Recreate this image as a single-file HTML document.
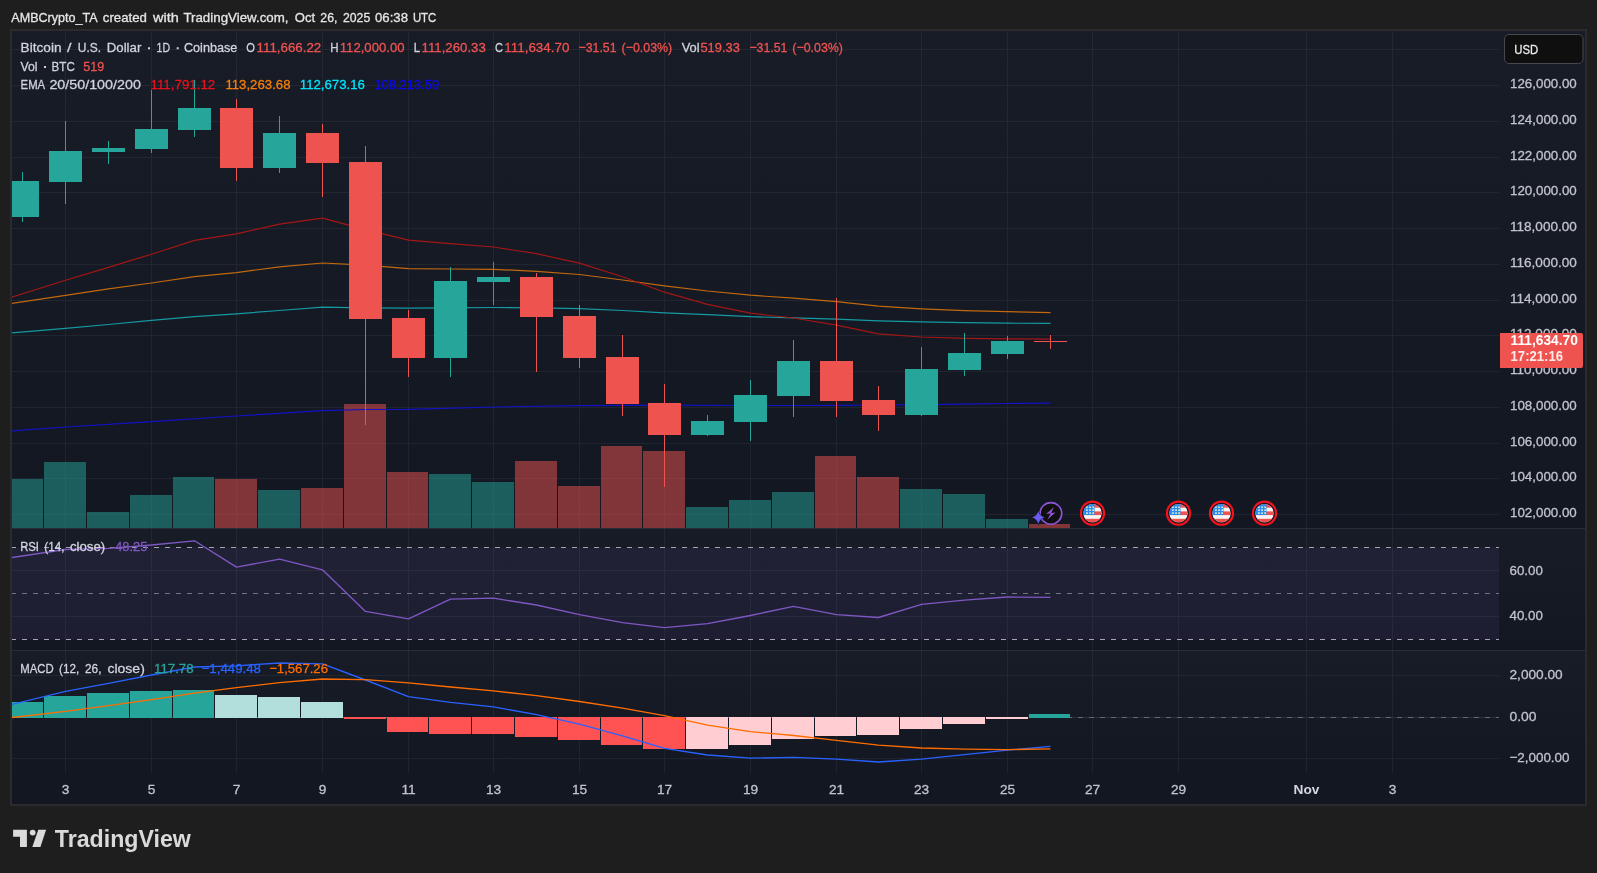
<!DOCTYPE html><html><head><meta charset="utf-8"><title>BTCUSD chart</title>
<style>html,body{margin:0;padding:0;background:#1e1e1e;overflow:hidden}svg{display:block}text{font-family:"Liberation Sans",sans-serif}</style></head><body>
<svg width="1597" height="873" viewBox="0 0 1597 873">
<defs><linearGradient id="bg" x1="0" y1="0" x2="0" y2="1"><stop offset="0" stop-color="#181c27"/><stop offset="1" stop-color="#131722"/></linearGradient><clipPath id="cm"><rect x="12" y="31" width="1487" height="497.5"/></clipPath><clipPath id="cr"><rect x="12" y="529" width="1487" height="121"/></clipPath><clipPath id="cd"><rect x="12" y="651" width="1487" height="121"/></clipPath><clipPath id="fl"><circle cx="0" cy="0" r="9.2"/></clipPath><filter id="idf" x="0" y="0" width="100%" height="100%" filterUnits="userSpaceOnUse" color-interpolation-filters="sRGB"><feOffset dx="0" dy="0"/></filter></defs>
<rect width="1597" height="873" fill="#1e1e1e"/>
<rect x="10" y="29" width="1577" height="777" fill="#2b2b2d"/>
<rect x="12" y="31" width="1573" height="773" fill="#131722"/>
<rect x="12" y="31" width="1573" height="497.5" fill="url(#bg)"/>
<rect x="12" y="529" width="1573" height="121.5" fill="url(#bg)"/>
<rect x="12" y="651" width="1573" height="122" fill="url(#bg)"/>
<path d="M65.5 31V772.5 M151.5 31V772.5 M236.5 31V772.5 M322.5 31V772.5 M408.5 31V772.5 M493.5 31V772.5 M579.5 31V772.5 M664.5 31V772.5 M750.5 31V772.5 M836.5 31V772.5 M921.5 31V772.5 M1007.5 31V772.5 M1092.5 31V772.5 M1178.5 31V772.5 M1306.5 31V772.5 M1392.5 31V772.5 M12 49.5H1499 M12 85.5H1499 M12 121.5H1499 M12 157.5H1499 M12 192.5H1499 M12 228.5H1499 M12 264.5H1499 M12 300.5H1499 M12 335.5H1499 M12 371.5H1499 M12 407.5H1499 M12 443.5H1499 M12 478.5H1499 M12 514.5H1499 M12 570.5H1499 M12 616.5H1499 M12 675.5H1499 M12 758.5H1499" stroke="rgba(240,243,250,0.06)" stroke-width="1" fill="none" shape-rendering="crispEdges"/>
<path d="M12 528.5H1585M12 650.5H1585" stroke="#2a2e39" stroke-width="1" shape-rendering="crispEdges"/>
<g clip-path="url(#cm)" shape-rendering="crispEdges">
<rect x="1" y="478.8" width="42" height="49.2" fill="rgba(38,166,154,0.5)"/>
<rect x="44" y="462.0" width="42" height="66.0" fill="rgba(38,166,154,0.5)"/>
<rect x="87" y="511.9" width="42" height="16.1" fill="rgba(38,166,154,0.5)"/>
<rect x="130" y="494.9" width="42" height="33.1" fill="rgba(38,166,154,0.5)"/>
<rect x="173" y="477.1" width="41" height="50.9" fill="rgba(38,166,154,0.5)"/>
<rect x="215" y="478.8" width="42" height="49.2" fill="rgba(239,83,80,0.5)"/>
<rect x="258" y="489.8" width="42" height="38.2" fill="rgba(38,166,154,0.5)"/>
<rect x="301" y="487.8" width="42" height="40.2" fill="rgba(239,83,80,0.5)"/>
<rect x="344" y="404.0" width="42" height="124.0" fill="rgba(239,83,80,0.5)"/>
<rect x="387" y="471.8" width="41" height="56.2" fill="rgba(239,83,80,0.5)"/>
<rect x="429" y="473.6" width="42" height="54.4" fill="rgba(38,166,154,0.5)"/>
<rect x="472" y="481.9" width="42" height="46.1" fill="rgba(38,166,154,0.5)"/>
<rect x="515" y="460.8" width="42" height="67.2" fill="rgba(239,83,80,0.5)"/>
<rect x="558" y="486.0" width="42" height="42.0" fill="rgba(239,83,80,0.5)"/>
<rect x="601" y="445.7" width="41" height="82.3" fill="rgba(239,83,80,0.5)"/>
<rect x="643" y="450.7" width="42" height="77.3" fill="rgba(239,83,80,0.5)"/>
<rect x="686" y="506.8" width="42" height="21.2" fill="rgba(38,166,154,0.5)"/>
<rect x="729" y="499.7" width="42" height="28.3" fill="rgba(38,166,154,0.5)"/>
<rect x="772" y="492.0" width="42" height="36.0" fill="rgba(38,166,154,0.5)"/>
<rect x="815" y="455.8" width="41" height="72.2" fill="rgba(239,83,80,0.5)"/>
<rect x="857" y="476.8" width="42" height="51.2" fill="rgba(239,83,80,0.5)"/>
<rect x="900" y="488.9" width="42" height="39.1" fill="rgba(38,166,154,0.5)"/>
<rect x="943" y="493.8" width="42" height="34.2" fill="rgba(38,166,154,0.5)"/>
<rect x="986" y="518.9" width="42" height="9.1" fill="rgba(38,166,154,0.5)"/>
<rect x="1029" y="523.8" width="41" height="4.2" fill="rgba(239,83,80,0.5)"/>
</g>
<polyline points="11.3,430.9 65.5,427.0 151.5,421.6 236.5,416.0 322.5,410.6 365.5,409.5 408.5,409.3 493.5,407.0 579.5,405.6 664.5,405.2 750.5,405.5 793.5,405.5 836.5,405.3 878.5,405.0 921.5,404.6 964.5,404.1 1007.5,403.5 1050.5,403.1" fill="none" stroke="#1212c8" stroke-width="1.2" stroke-linejoin="round" clip-path="url(#cm)"/>
<polyline points="11.3,333.0 65.5,328.4 108.5,324.5 151.5,320.4 194.5,316.6 236.5,313.8 279.5,310.5 322.5,307.2 365.5,307.8 408.5,308.2 450.5,307.8 493.5,307.5 536.5,307.8 579.5,308.7 622.5,310.5 664.5,312.8 707.5,314.6 750.5,316.7 793.5,317.8 836.5,319.1 878.5,320.9 921.5,321.8 964.5,322.7 1007.5,323.2 1050.5,323.4" fill="none" stroke="#159aa2" stroke-width="1.2" stroke-linejoin="round" clip-path="url(#cm)"/>
<polyline points="11.3,303.4 65.5,295.4 108.5,288.8 151.5,283.0 194.5,276.7 236.5,272.6 279.5,266.8 322.5,263.0 365.5,265.2 408.5,268.6 450.5,269.0 493.5,269.3 536.5,271.3 579.5,274.5 622.5,280.0 664.5,285.8 707.5,291.0 750.5,295.2 793.5,298.2 836.5,301.6 878.5,306.1 921.5,308.8 964.5,310.6 1007.5,311.7 1050.5,312.6" fill="none" stroke="#c2680f" stroke-width="1.2" stroke-linejoin="round" clip-path="url(#cm)"/>
<polyline points="11.3,297.3 65.5,280.3 108.5,267.4 151.5,254.2 194.5,240.4 236.5,233.8 279.5,224.2 322.5,218.1 365.5,229.7 408.5,240.2 450.5,243.6 493.5,247.0 536.5,253.7 579.5,263.1 622.5,276.8 664.5,292.2 707.5,304.3 750.5,313.2 793.5,318.0 836.5,325.2 878.5,333.8 921.5,337.0 964.5,338.3 1007.5,338.8 1050.5,339.1" fill="none" stroke="#a31616" stroke-width="1.2" stroke-linejoin="round" clip-path="url(#cm)"/>
<g clip-path="url(#cm)" shape-rendering="crispEdges">
<rect x="22" y="172.0" width="1" height="49.6" fill="#26a69a"/>
<rect x="6" y="181.0" width="33" height="35.7" fill="#26a69a"/>
<rect x="65" y="121.0" width="1" height="82.8" fill="#26a69a"/>
<rect x="49" y="151.0" width="33" height="30.5" fill="#26a69a"/>
<rect x="108" y="141.0" width="1" height="23.0" fill="#26a69a"/>
<rect x="92" y="148.0" width="33" height="3.8" fill="#26a69a"/>
<rect x="151" y="89.7" width="1" height="63.3" fill="#26a69a"/>
<rect x="135" y="129.0" width="33" height="19.8" fill="#26a69a"/>
<rect x="194" y="80.0" width="1" height="57.0" fill="#26a69a"/>
<rect x="178" y="108.0" width="33" height="21.8" fill="#26a69a"/>
<rect x="236" y="99.3" width="1" height="81.7" fill="#ef5350"/>
<rect x="220" y="108.0" width="33" height="59.8" fill="#ef5350"/>
<rect x="279" y="116.0" width="1" height="56.7" fill="#26a69a"/>
<rect x="263" y="133.0" width="33" height="34.8" fill="#26a69a"/>
<rect x="322" y="124.0" width="1" height="73.0" fill="#ef5350"/>
<rect x="306" y="133.0" width="33" height="29.8" fill="#ef5350"/>
<rect x="365" y="146.0" width="1" height="279.0" fill="#ef5350"/>
<rect x="349" y="162.0" width="33" height="157.0" fill="#ef5350"/>
<rect x="408" y="310.0" width="1" height="66.5" fill="#ef5350"/>
<rect x="392" y="318.0" width="33" height="39.7" fill="#ef5350"/>
<rect x="450" y="266.5" width="1" height="110.0" fill="#26a69a"/>
<rect x="434" y="280.7" width="33" height="77.0" fill="#26a69a"/>
<rect x="493" y="262.0" width="1" height="43.0" fill="#26a69a"/>
<rect x="477" y="277.0" width="33" height="4.7" fill="#26a69a"/>
<rect x="536" y="273.0" width="1" height="98.5" fill="#ef5350"/>
<rect x="520" y="277.0" width="33" height="40.0" fill="#ef5350"/>
<rect x="579" y="304.6" width="1" height="63.4" fill="#ef5350"/>
<rect x="563" y="316.0" width="33" height="41.7" fill="#ef5350"/>
<rect x="622" y="334.8" width="1" height="81.2" fill="#ef5350"/>
<rect x="606" y="356.8" width="33" height="47.2" fill="#ef5350"/>
<rect x="664" y="383.8" width="1" height="102.7" fill="#ef5350"/>
<rect x="648" y="403.0" width="33" height="31.7" fill="#ef5350"/>
<rect x="707" y="415.0" width="1" height="21.0" fill="#26a69a"/>
<rect x="691" y="420.8" width="33" height="14.2" fill="#26a69a"/>
<rect x="750" y="380.0" width="1" height="61.0" fill="#26a69a"/>
<rect x="734" y="394.9" width="33" height="26.9" fill="#26a69a"/>
<rect x="793" y="339.8" width="1" height="77.0" fill="#26a69a"/>
<rect x="777" y="360.8" width="33" height="35.0" fill="#26a69a"/>
<rect x="836" y="297.7" width="1" height="119.1" fill="#ef5350"/>
<rect x="820" y="360.8" width="33" height="40.2" fill="#ef5350"/>
<rect x="878" y="385.9" width="1" height="44.8" fill="#ef5350"/>
<rect x="862" y="399.8" width="33" height="15.2" fill="#ef5350"/>
<rect x="921" y="347.2" width="1" height="69.0" fill="#26a69a"/>
<rect x="905" y="368.9" width="33" height="46.1" fill="#26a69a"/>
<rect x="964" y="333.0" width="1" height="43.0" fill="#26a69a"/>
<rect x="948" y="352.8" width="33" height="17.0" fill="#26a69a"/>
<rect x="1007" y="335.8" width="1" height="23.2" fill="#26a69a"/>
<rect x="991" y="341.0" width="33" height="13.0" fill="#26a69a"/>
<rect x="1050" y="334.5" width="1" height="14.5" fill="#ef5350"/>
<rect x="1034" y="341.0" width="33" height="1.0" fill="#ef5350"/>
</g>
<rect x="12" y="547.5" width="1487" height="92" fill="rgba(126,87,194,0.1)"/>
<path d="M12 547.5H1499M12 639.5H1499" stroke="#a3a5af" stroke-width="1" stroke-dasharray="5.4 5.6" stroke-dashoffset="1" fill="none" shape-rendering="crispEdges"/>
<path d="M12 593.5H1499" stroke="#71747f" stroke-width="1" stroke-dasharray="5.4 5.6" stroke-dashoffset="1" fill="none" shape-rendering="crispEdges"/>
<polyline points="11.3,557.6 65.5,549.5 108.5,548.3 151.5,545.0 194.5,540.8 236.5,567.1 279.5,559.1 322.5,569.8 365.5,611.4 408.5,618.8 450.5,599.2 493.5,598.2 536.5,605.0 579.5,614.6 622.5,622.6 664.5,627.7 707.5,623.6 750.5,615.5 793.5,606.3 836.5,614.6 878.5,617.5 921.5,604.3 964.5,600.2 1007.5,597.0 1050.5,597.3" fill="none" stroke="#7e57c2" stroke-width="1.35" stroke-linejoin="round" clip-path="url(#cr)"/>
<path d="M12 717.5H1499" stroke="#2c2f3a" stroke-width="1" fill="none" shape-rendering="crispEdges"/>
<path d="M12 717.5H1499" stroke="#666975" stroke-width="1" stroke-dasharray="5.4 5.6" stroke-dashoffset="1" fill="none" shape-rendering="crispEdges"/>
<g clip-path="url(#cd)" shape-rendering="crispEdges">
<rect x="1" y="701.8" width="42" height="16.2" fill="#26a69a"/>
<rect x="44" y="696.1" width="42" height="21.9" fill="#26a69a"/>
<rect x="87" y="693.1" width="42" height="24.9" fill="#26a69a"/>
<rect x="130" y="691.1" width="42" height="26.9" fill="#26a69a"/>
<rect x="173" y="690.1" width="41" height="27.9" fill="#26a69a"/>
<rect x="215" y="695.1" width="42" height="22.9" fill="#b2dfdb"/>
<rect x="258" y="696.8" width="42" height="21.2" fill="#b2dfdb"/>
<rect x="301" y="701.8" width="42" height="16.2" fill="#b2dfdb"/>
<rect x="344" y="717.0" width="42" height="1.9" fill="#ff5252"/>
<rect x="387" y="717.0" width="41" height="14.6" fill="#ff5252"/>
<rect x="429" y="717.0" width="42" height="16.9" fill="#ff5252"/>
<rect x="472" y="717.0" width="42" height="16.9" fill="#ff5252"/>
<rect x="515" y="717.0" width="42" height="20.0" fill="#ff5252"/>
<rect x="558" y="717.0" width="42" height="23.0" fill="#ff5252"/>
<rect x="601" y="717.0" width="41" height="28.0" fill="#ff5252"/>
<rect x="643" y="717.0" width="42" height="31.9" fill="#ff5252"/>
<rect x="686" y="717.0" width="42" height="31.9" fill="#ffcdd2"/>
<rect x="729" y="717.0" width="42" height="28.0" fill="#ffcdd2"/>
<rect x="772" y="717.0" width="42" height="21.9" fill="#ffcdd2"/>
<rect x="815" y="717.0" width="41" height="18.8" fill="#ffcdd2"/>
<rect x="857" y="717.0" width="42" height="17.8" fill="#ffcdd2"/>
<rect x="900" y="717.0" width="42" height="12.0" fill="#ffcdd2"/>
<rect x="943" y="717.0" width="42" height="6.9" fill="#ffcdd2"/>
<rect x="986" y="717.0" width="42" height="1.8" fill="#ffcdd2"/>
<rect x="1029" y="713.7" width="41" height="4.3" fill="#26a69a"/>
</g>
<polyline points="11.3,704.6 65.5,691.3 108.5,683.3 151.5,675.0 194.5,667.0 236.5,665.8 279.5,663.0 322.5,663.8 365.5,680.0 408.5,696.7 450.5,702.4 493.5,706.9 536.5,714.6 579.5,724.2 622.5,735.8 664.5,748.3 707.5,755.0 750.5,758.2 793.5,757.3 836.5,759.2 878.5,762.0 921.5,759.2 964.5,754.7 1007.5,750.2 1050.5,746.4" fill="none" stroke="#2962ff" stroke-width="1.35" stroke-linejoin="round" clip-path="url(#cd)"/>
<polyline points="11.3,717.6 65.5,711.4 108.5,705.6 151.5,699.6 194.5,693.1 236.5,687.6 279.5,682.6 322.5,679.0 365.5,679.6 408.5,682.9 450.5,687.0 493.5,690.9 536.5,695.7 579.5,701.5 622.5,708.2 664.5,715.6 707.5,725.2 750.5,731.6 793.5,735.5 836.5,740.3 878.5,745.1 921.5,748.0 964.5,749.2 1007.5,749.6 1050.5,748.9" fill="none" stroke="#ff6d00" stroke-width="1.35" stroke-linejoin="round" clip-path="url(#cd)"/>
<g filter="url(#idf)">
<text x="11.3" y="21.6" font-size="13.4" fill="#e6e6e6" stroke="#e6e6e6" stroke-width="0.3" textLength="86.3" lengthAdjust="spacingAndGlyphs">AMBCrypto_TA</text>
<text x="102.8" y="21.6" font-size="13.4" fill="#e6e6e6" stroke="#e6e6e6" stroke-width="0.3" textLength="44.1" lengthAdjust="spacingAndGlyphs">created</text>
<text x="153.1" y="21.6" font-size="13.4" fill="#e6e6e6" stroke="#e6e6e6" stroke-width="0.3" textLength="25.8" lengthAdjust="spacingAndGlyphs">with</text>
<text x="183.4" y="21.6" font-size="13.4" fill="#e6e6e6" stroke="#e6e6e6" stroke-width="0.3" textLength="105.1" lengthAdjust="spacingAndGlyphs">TradingView.com,</text>
<text x="294.8" y="21.6" font-size="13.4" fill="#e6e6e6" stroke="#e6e6e6" stroke-width="0.3" textLength="20.3" lengthAdjust="spacingAndGlyphs">Oct</text>
<text x="320.3" y="21.6" font-size="13.4" fill="#e6e6e6" stroke="#e6e6e6" stroke-width="0.3" textLength="17.1" lengthAdjust="spacingAndGlyphs">26,</text>
<text x="343.0" y="21.6" font-size="13.4" fill="#e6e6e6" stroke="#e6e6e6" stroke-width="0.3" textLength="27.2" lengthAdjust="spacingAndGlyphs">2025</text>
<text x="375.0" y="21.6" font-size="13.4" fill="#e6e6e6" stroke="#e6e6e6" stroke-width="0.3" textLength="33.0" lengthAdjust="spacingAndGlyphs">06:38</text>
<text x="412.9" y="21.6" font-size="13.4" fill="#e6e6e6" stroke="#e6e6e6" stroke-width="0.3" textLength="23.4" lengthAdjust="spacingAndGlyphs">UTC</text>
<text x="20.6" y="51.9" font-size="13.7" fill="#d1d4dc" stroke="#d1d4dc" stroke-width="0.3" textLength="41.0" lengthAdjust="spacingAndGlyphs">Bitcoin</text>
<text x="66.9" y="51.9" font-size="13.7" fill="#d1d4dc" stroke="#d1d4dc" stroke-width="0.3" textLength="4.5" lengthAdjust="spacingAndGlyphs">/</text>
<text x="77.8" y="51.9" font-size="13.7" fill="#d1d4dc" stroke="#d1d4dc" stroke-width="0.3" textLength="23.3" lengthAdjust="spacingAndGlyphs">U.S.</text>
<text x="106.8" y="51.9" font-size="13.7" fill="#d1d4dc" stroke="#d1d4dc" stroke-width="0.3" textLength="34.5" lengthAdjust="spacingAndGlyphs">Dollar</text>
<text x="156.6" y="51.9" font-size="13.7" fill="#d1d4dc" stroke="#d1d4dc" stroke-width="0.3" textLength="13.5" lengthAdjust="spacingAndGlyphs">1D</text>
<text x="184.0" y="51.9" font-size="13.7" fill="#d1d4dc" stroke="#d1d4dc" stroke-width="0.3" textLength="53.3" lengthAdjust="spacingAndGlyphs">Coinbase</text>
<text x="246.3" y="51.9" font-size="13.7" fill="#d1d4dc" stroke="#d1d4dc" stroke-width="0.3" textLength="8.7" lengthAdjust="spacingAndGlyphs">O</text>
<text x="330.3" y="51.9" font-size="13.7" fill="#d1d4dc" stroke="#d1d4dc" stroke-width="0.3" textLength="8.3" lengthAdjust="spacingAndGlyphs">H</text>
<text x="413.8" y="51.9" font-size="13.7" fill="#d1d4dc" stroke="#d1d4dc" stroke-width="0.3" textLength="6.4" lengthAdjust="spacingAndGlyphs">L</text>
<text x="495.0" y="51.9" font-size="13.7" fill="#d1d4dc" stroke="#d1d4dc" stroke-width="0.3" textLength="8.0" lengthAdjust="spacingAndGlyphs">C</text>
<text x="681.7" y="51.9" font-size="13.7" fill="#d1d4dc" stroke="#d1d4dc" stroke-width="0.3" textLength="17.9" lengthAdjust="spacingAndGlyphs">Vol</text>
<path d="M148 47.2h2v2h-2zM176.7 47.2h2v2h-2zM44 66h2v2h-2z" fill="#d1d4dc"/>
<text x="256.6" y="51.9" font-size="13.7" fill="#ef5350" stroke="#ef5350" stroke-width="0.3" textLength="64.7" lengthAdjust="spacingAndGlyphs">111,666.22</text>
<text x="339.8" y="51.9" font-size="13.7" fill="#ef5350" stroke="#ef5350" stroke-width="0.3" textLength="64.7" lengthAdjust="spacingAndGlyphs">112,000.00</text>
<text x="421.6" y="51.9" font-size="13.7" fill="#ef5350" stroke="#ef5350" stroke-width="0.3" textLength="64.2" lengthAdjust="spacingAndGlyphs">111,260.33</text>
<text x="504.3" y="51.9" font-size="13.7" fill="#ef5350" stroke="#ef5350" stroke-width="0.3" textLength="65.1" lengthAdjust="spacingAndGlyphs">111,634.70</text>
<text x="578.6" y="51.9" font-size="13.7" fill="#ef5350" stroke="#ef5350" stroke-width="0.3" textLength="37.9" lengthAdjust="spacingAndGlyphs">−31.51</text>
<text x="621.5" y="51.9" font-size="13.7" fill="#ef5350" stroke="#ef5350" stroke-width="0.3" textLength="50.7" lengthAdjust="spacingAndGlyphs">(−0.03%)</text>
<text x="700.4" y="51.9" font-size="13.7" fill="#ef5350" stroke="#ef5350" stroke-width="0.3" textLength="39.5" lengthAdjust="spacingAndGlyphs">519.33</text>
<text x="749.4" y="51.9" font-size="13.7" fill="#ef5350" stroke="#ef5350" stroke-width="0.3" textLength="37.9" lengthAdjust="spacingAndGlyphs">−31.51</text>
<text x="792.3" y="51.9" font-size="13.7" fill="#ef5350" stroke="#ef5350" stroke-width="0.3" textLength="50.7" lengthAdjust="spacingAndGlyphs">(−0.03%)</text>
<text x="20.6" y="70.7" font-size="13.7" fill="#d1d4dc" stroke="#d1d4dc" stroke-width="0.3" textLength="17.0" lengthAdjust="spacingAndGlyphs">Vol</text>
<text x="51.6" y="70.7" font-size="13.7" fill="#d1d4dc" stroke="#d1d4dc" stroke-width="0.3" textLength="23.2" lengthAdjust="spacingAndGlyphs">BTC</text>
<text x="83.3" y="70.7" font-size="13.7" fill="#ef5350" stroke="#ef5350" stroke-width="0.3" textLength="20.9" lengthAdjust="spacingAndGlyphs">519</text>
<text x="20.6" y="89.4" font-size="13.7" fill="#d1d4dc" stroke="#d1d4dc" stroke-width="0.3" textLength="24.5" lengthAdjust="spacingAndGlyphs">EMA</text>
<text x="49.4" y="89.4" font-size="13.7" fill="#d1d4dc" stroke="#d1d4dc" stroke-width="0.3" textLength="91.5" lengthAdjust="spacingAndGlyphs">20/50/100/200</text>
<text x="150.5" y="89.4" font-size="13.7" fill="#e5131d" stroke="#e5131d" stroke-width="0.3" textLength="64.8" lengthAdjust="spacingAndGlyphs">111,791.12</text>
<text x="225.4" y="89.4" font-size="13.7" fill="#f77f0a" stroke="#f77f0a" stroke-width="0.3" textLength="65.1" lengthAdjust="spacingAndGlyphs">113,263.68</text>
<text x="299.8" y="89.4" font-size="13.7" fill="#00e5ff" stroke="#00e5ff" stroke-width="0.3" textLength="65.1" lengthAdjust="spacingAndGlyphs">112,673.16</text>
<text x="374.2" y="89.4" font-size="13.7" fill="#0a0af0" stroke="#0a0af0" stroke-width="0.3" textLength="65.0" lengthAdjust="spacingAndGlyphs">108,213.59</text>
<text x="20.2" y="551.0" font-size="13.7" fill="#d1d4dc" stroke="#d1d4dc" stroke-width="0.3" textLength="18.8" lengthAdjust="spacingAndGlyphs">RSI</text>
<text x="44.3" y="551.0" font-size="13.7" fill="#d1d4dc" stroke="#d1d4dc" stroke-width="0.3" textLength="20.2" lengthAdjust="spacingAndGlyphs">(14,</text>
<text x="70.0" y="551.0" font-size="13.7" fill="#d1d4dc" stroke="#d1d4dc" stroke-width="0.3" textLength="35.2" lengthAdjust="spacingAndGlyphs">close)</text>
<text x="115.2" y="551.0" font-size="13.7" fill="#7e57c2" stroke="#7e57c2" stroke-width="0.3" textLength="32.1" lengthAdjust="spacingAndGlyphs">48.25</text>
<text x="20.2" y="673.0" font-size="13.7" fill="#d1d4dc" stroke="#d1d4dc" stroke-width="0.3" textLength="33.4" lengthAdjust="spacingAndGlyphs">MACD</text>
<text x="59.0" y="673.0" font-size="13.7" fill="#d1d4dc" stroke="#d1d4dc" stroke-width="0.3" textLength="20.3" lengthAdjust="spacingAndGlyphs">(12,</text>
<text x="85.0" y="673.0" font-size="13.7" fill="#d1d4dc" stroke="#d1d4dc" stroke-width="0.3" textLength="16.5" lengthAdjust="spacingAndGlyphs">26,</text>
<text x="107.5" y="673.0" font-size="13.7" fill="#d1d4dc" stroke="#d1d4dc" stroke-width="0.3" textLength="37.3" lengthAdjust="spacingAndGlyphs">close)</text>
<text x="154.0" y="673.0" font-size="13.7" fill="#26a69a" stroke="#26a69a" stroke-width="0.3" textLength="39.6" lengthAdjust="spacingAndGlyphs">117.78</text>
<text x="201.6" y="673.0" font-size="13.7" fill="#2962ff" stroke="#2962ff" stroke-width="0.3" textLength="59.4" lengthAdjust="spacingAndGlyphs">−1,449.48</text>
<text x="269.2" y="673.0" font-size="13.7" fill="#ff6d00" stroke="#ff6d00" stroke-width="0.3" textLength="58.8" lengthAdjust="spacingAndGlyphs">−1,567.26</text>
<text x="1510.0" y="88.2" font-size="13.7" fill="#c1c4cc" stroke="#c1c4cc" stroke-width="0.3" textLength="66.8" lengthAdjust="spacingAndGlyphs">126,000.00</text>
<text x="1510.0" y="124.2" font-size="13.7" fill="#c1c4cc" stroke="#c1c4cc" stroke-width="0.3" textLength="66.8" lengthAdjust="spacingAndGlyphs">124,000.00</text>
<text x="1510.0" y="160.2" font-size="13.7" fill="#c1c4cc" stroke="#c1c4cc" stroke-width="0.3" textLength="66.8" lengthAdjust="spacingAndGlyphs">122,000.00</text>
<text x="1510.0" y="195.2" font-size="13.7" fill="#c1c4cc" stroke="#c1c4cc" stroke-width="0.3" textLength="66.8" lengthAdjust="spacingAndGlyphs">120,000.00</text>
<text x="1510.0" y="231.2" font-size="13.7" fill="#c1c4cc" stroke="#c1c4cc" stroke-width="0.3" textLength="66.8" lengthAdjust="spacingAndGlyphs">118,000.00</text>
<text x="1510.0" y="267.2" font-size="13.7" fill="#c1c4cc" stroke="#c1c4cc" stroke-width="0.3" textLength="66.8" lengthAdjust="spacingAndGlyphs">116,000.00</text>
<text x="1510.0" y="303.2" font-size="13.7" fill="#c1c4cc" stroke="#c1c4cc" stroke-width="0.3" textLength="66.8" lengthAdjust="spacingAndGlyphs">114,000.00</text>
<text x="1510.0" y="338.2" font-size="13.7" fill="#c1c4cc" stroke="#c1c4cc" stroke-width="0.3" textLength="66.8" lengthAdjust="spacingAndGlyphs">112,000.00</text>
<text x="1510.0" y="374.2" font-size="13.7" fill="#c1c4cc" stroke="#c1c4cc" stroke-width="0.3" textLength="66.8" lengthAdjust="spacingAndGlyphs">110,000.00</text>
<text x="1510.0" y="410.2" font-size="13.7" fill="#c1c4cc" stroke="#c1c4cc" stroke-width="0.3" textLength="66.8" lengthAdjust="spacingAndGlyphs">108,000.00</text>
<text x="1510.0" y="446.2" font-size="13.7" fill="#c1c4cc" stroke="#c1c4cc" stroke-width="0.3" textLength="66.8" lengthAdjust="spacingAndGlyphs">106,000.00</text>
<text x="1510.0" y="481.2" font-size="13.7" fill="#c1c4cc" stroke="#c1c4cc" stroke-width="0.3" textLength="66.8" lengthAdjust="spacingAndGlyphs">104,000.00</text>
<text x="1510.0" y="517.2" font-size="13.7" fill="#c1c4cc" stroke="#c1c4cc" stroke-width="0.3" textLength="66.8" lengthAdjust="spacingAndGlyphs">102,000.00</text>
<path d="M1500 333H1581Q1583 333 1583 335V366Q1583 368 1581 368H1500Z" fill="#ef5350"/>
<text x="1510.6" y="345.0" font-size="13.8" fill="#ffffff" textLength="67.2" lengthAdjust="spacingAndGlyphs" font-weight="bold">111,634.70</text>
<text x="1510.6" y="361.0" font-size="13.8" fill="#ffe9e8" textLength="52.4" lengthAdjust="spacingAndGlyphs" font-weight="bold">17:21:16</text>
<text x="1509.5" y="574.5" font-size="13.7" fill="#c1c4cc" stroke="#c1c4cc" stroke-width="0.3" textLength="33.3" lengthAdjust="spacingAndGlyphs">60.00</text>
<text x="1509.5" y="619.8" font-size="13.7" fill="#c1c4cc" stroke="#c1c4cc" stroke-width="0.3" textLength="33.3" lengthAdjust="spacingAndGlyphs">40.00</text>
<text x="1509.5" y="678.6" font-size="13.7" fill="#c1c4cc" stroke="#c1c4cc" stroke-width="0.3" textLength="53.2" lengthAdjust="spacingAndGlyphs">2,000.00</text>
<text x="1509.5" y="720.8" font-size="13.7" fill="#c1c4cc" stroke="#c1c4cc" stroke-width="0.3" textLength="27.0" lengthAdjust="spacingAndGlyphs">0.00</text>
<text x="1509.5" y="761.5" font-size="13.7" fill="#c1c4cc" stroke="#c1c4cc" stroke-width="0.3" textLength="60.0" lengthAdjust="spacingAndGlyphs">−2,000.00</text>
<rect x="1504.5" y="34.5" width="78.5" height="29" rx="4.5" fill="#0f0f0f" stroke="#464850" stroke-width="1"/>
<text x="1514.2" y="53.6" font-size="13.7" fill="#ececec" stroke="#ececec" stroke-width="0.3" textLength="24.0" lengthAdjust="spacingAndGlyphs">USD</text>
<text x="65.5" y="793.7" font-size="13.7" fill="#c1c4cc" stroke="#c1c4cc" stroke-width="0.3" text-anchor="middle">3</text>
<text x="151.5" y="793.7" font-size="13.7" fill="#c1c4cc" stroke="#c1c4cc" stroke-width="0.3" text-anchor="middle">5</text>
<text x="236.5" y="793.7" font-size="13.7" fill="#c1c4cc" stroke="#c1c4cc" stroke-width="0.3" text-anchor="middle">7</text>
<text x="322.5" y="793.7" font-size="13.7" fill="#c1c4cc" stroke="#c1c4cc" stroke-width="0.3" text-anchor="middle">9</text>
<text x="408.5" y="793.7" font-size="13.7" fill="#c1c4cc" stroke="#c1c4cc" stroke-width="0.3" text-anchor="middle">11</text>
<text x="493.5" y="793.7" font-size="13.7" fill="#c1c4cc" stroke="#c1c4cc" stroke-width="0.3" text-anchor="middle">13</text>
<text x="579.5" y="793.7" font-size="13.7" fill="#c1c4cc" stroke="#c1c4cc" stroke-width="0.3" text-anchor="middle">15</text>
<text x="664.5" y="793.7" font-size="13.7" fill="#c1c4cc" stroke="#c1c4cc" stroke-width="0.3" text-anchor="middle">17</text>
<text x="750.5" y="793.7" font-size="13.7" fill="#c1c4cc" stroke="#c1c4cc" stroke-width="0.3" text-anchor="middle">19</text>
<text x="836.5" y="793.7" font-size="13.7" fill="#c1c4cc" stroke="#c1c4cc" stroke-width="0.3" text-anchor="middle">21</text>
<text x="921.5" y="793.7" font-size="13.7" fill="#c1c4cc" stroke="#c1c4cc" stroke-width="0.3" text-anchor="middle">23</text>
<text x="1007.5" y="793.7" font-size="13.7" fill="#c1c4cc" stroke="#c1c4cc" stroke-width="0.3" text-anchor="middle">25</text>
<text x="1092.5" y="793.7" font-size="13.7" fill="#c1c4cc" stroke="#c1c4cc" stroke-width="0.3" text-anchor="middle">27</text>
<text x="1178.5" y="793.7" font-size="13.7" fill="#c1c4cc" stroke="#c1c4cc" stroke-width="0.3" text-anchor="middle">29</text>
<text x="1306.5" y="793.7" font-size="13.7" fill="#d5d8e0" font-weight="bold" text-anchor="middle">Nov</text>
<text x="1392.5" y="793.7" font-size="13.7" fill="#c1c4cc" stroke="#c1c4cc" stroke-width="0.3" text-anchor="middle">3</text>
</g>
<circle cx="1050.9" cy="513.4" r="10.8" fill="#0f0f0f" stroke="#8e55d9" stroke-width="1.6"/>
<path d="M1054.0 507.1L1046.1 514.1L1050.7 513.6L1047.2 519.8L1055.5 512.4L1051.2 512.9Z" fill="#8e55d9"/>
<path d="M1038.3 511.3Q1039.6 516.2 1044.5 517.5Q1039.6 518.8 1038.3 523.7Q1037.0 518.8 1032.1 517.5Q1037.0 516.2 1038.3 511.3Z" fill="#6a5cf0" stroke="#161a25" stroke-width="1.2" paint-order="stroke"/>
<g transform="translate(1092.5 513.2)"><circle r="11.6" fill="#131722" stroke="#f5121d" stroke-width="2.1"/><g clip-path="url(#fl)"><rect x="-9.3" y="-9.3" width="18.6" height="18.6" fill="#f6f6f6"/><rect x="-9.3" y="-9.3" width="18.6" height="3.8" fill="#ef5350"/><rect x="-9.3" y="-1.8" width="18.6" height="3.7" fill="#ef5350"/><rect x="-9.3" y="5.6" width="18.6" height="3.8" fill="#ef5350"/><rect x="-9.3" y="-9.3" width="11.3" height="11.1" fill="#2a8cf0"/><path d="M-6.4 -6.8h1.7v1.7h-1.7zM-3.3 -6.8h1.7v1.7h-1.7zM-0.2 -6.8h1.7v1.7h-1.7zM-6.4 -3.9h1.7v1.7h-1.7zM-3.3 -3.9h1.7v1.7h-1.7zM-0.2 -3.9h1.7v1.7h-1.7zM-6.4 -1.0h1.7v1.7h-1.7zM-3.3 -1.0h1.7v1.7h-1.7zM-0.2 -1.0h1.7v1.7h-1.7z" fill="#d6ead0"/></g></g>
<g transform="translate(1178.5 513.2)"><circle r="11.6" fill="#131722" stroke="#f5121d" stroke-width="2.1"/><g clip-path="url(#fl)"><rect x="-9.3" y="-9.3" width="18.6" height="18.6" fill="#f6f6f6"/><rect x="-9.3" y="-9.3" width="18.6" height="3.8" fill="#ef5350"/><rect x="-9.3" y="-1.8" width="18.6" height="3.7" fill="#ef5350"/><rect x="-9.3" y="5.6" width="18.6" height="3.8" fill="#ef5350"/><rect x="-9.3" y="-9.3" width="11.3" height="11.1" fill="#2a8cf0"/><path d="M-6.4 -6.8h1.7v1.7h-1.7zM-3.3 -6.8h1.7v1.7h-1.7zM-0.2 -6.8h1.7v1.7h-1.7zM-6.4 -3.9h1.7v1.7h-1.7zM-3.3 -3.9h1.7v1.7h-1.7zM-0.2 -3.9h1.7v1.7h-1.7zM-6.4 -1.0h1.7v1.7h-1.7zM-3.3 -1.0h1.7v1.7h-1.7zM-0.2 -1.0h1.7v1.7h-1.7z" fill="#d6ead0"/></g></g>
<g transform="translate(1221.5 513.2)"><circle r="11.6" fill="#131722" stroke="#f5121d" stroke-width="2.1"/><g clip-path="url(#fl)"><rect x="-9.3" y="-9.3" width="18.6" height="18.6" fill="#f6f6f6"/><rect x="-9.3" y="-9.3" width="18.6" height="3.8" fill="#ef5350"/><rect x="-9.3" y="-1.8" width="18.6" height="3.7" fill="#ef5350"/><rect x="-9.3" y="5.6" width="18.6" height="3.8" fill="#ef5350"/><rect x="-9.3" y="-9.3" width="11.3" height="11.1" fill="#2a8cf0"/><path d="M-6.4 -6.8h1.7v1.7h-1.7zM-3.3 -6.8h1.7v1.7h-1.7zM-0.2 -6.8h1.7v1.7h-1.7zM-6.4 -3.9h1.7v1.7h-1.7zM-3.3 -3.9h1.7v1.7h-1.7zM-0.2 -3.9h1.7v1.7h-1.7zM-6.4 -1.0h1.7v1.7h-1.7zM-3.3 -1.0h1.7v1.7h-1.7zM-0.2 -1.0h1.7v1.7h-1.7z" fill="#d6ead0"/></g></g>
<g transform="translate(1264.5 513.2)"><circle r="11.6" fill="#131722" stroke="#f5121d" stroke-width="2.1"/><g clip-path="url(#fl)"><rect x="-9.3" y="-9.3" width="18.6" height="18.6" fill="#f6f6f6"/><rect x="-9.3" y="-9.3" width="18.6" height="3.8" fill="#ef5350"/><rect x="-9.3" y="-1.8" width="18.6" height="3.7" fill="#ef5350"/><rect x="-9.3" y="5.6" width="18.6" height="3.8" fill="#ef5350"/><rect x="-9.3" y="-9.3" width="11.3" height="11.1" fill="#2a8cf0"/><path d="M-6.4 -6.8h1.7v1.7h-1.7zM-3.3 -6.8h1.7v1.7h-1.7zM-0.2 -6.8h1.7v1.7h-1.7zM-6.4 -3.9h1.7v1.7h-1.7zM-3.3 -3.9h1.7v1.7h-1.7zM-0.2 -3.9h1.7v1.7h-1.7zM-6.4 -1.0h1.7v1.7h-1.7zM-3.3 -1.0h1.7v1.7h-1.7zM-0.2 -1.0h1.7v1.7h-1.7z" fill="#d6ead0"/></g></g>
<path d="M13.1 829.7H26.9V846.9H20V836.8H13.1Z" fill="#dadada"/>
<circle cx="32.7" cy="832.6" r="2.9" fill="#dadada"/>
<path d="M38.3 829.7H46.1L40.4 846.9H32.3Z" fill="#dadada"/>
<g filter="url(#idf)">
<text x="54.8" y="846.8" font-size="23.3" fill="#dadada" textLength="136.0" lengthAdjust="spacingAndGlyphs" font-weight="bold">TradingView</text>
</g>
</svg></body></html>
